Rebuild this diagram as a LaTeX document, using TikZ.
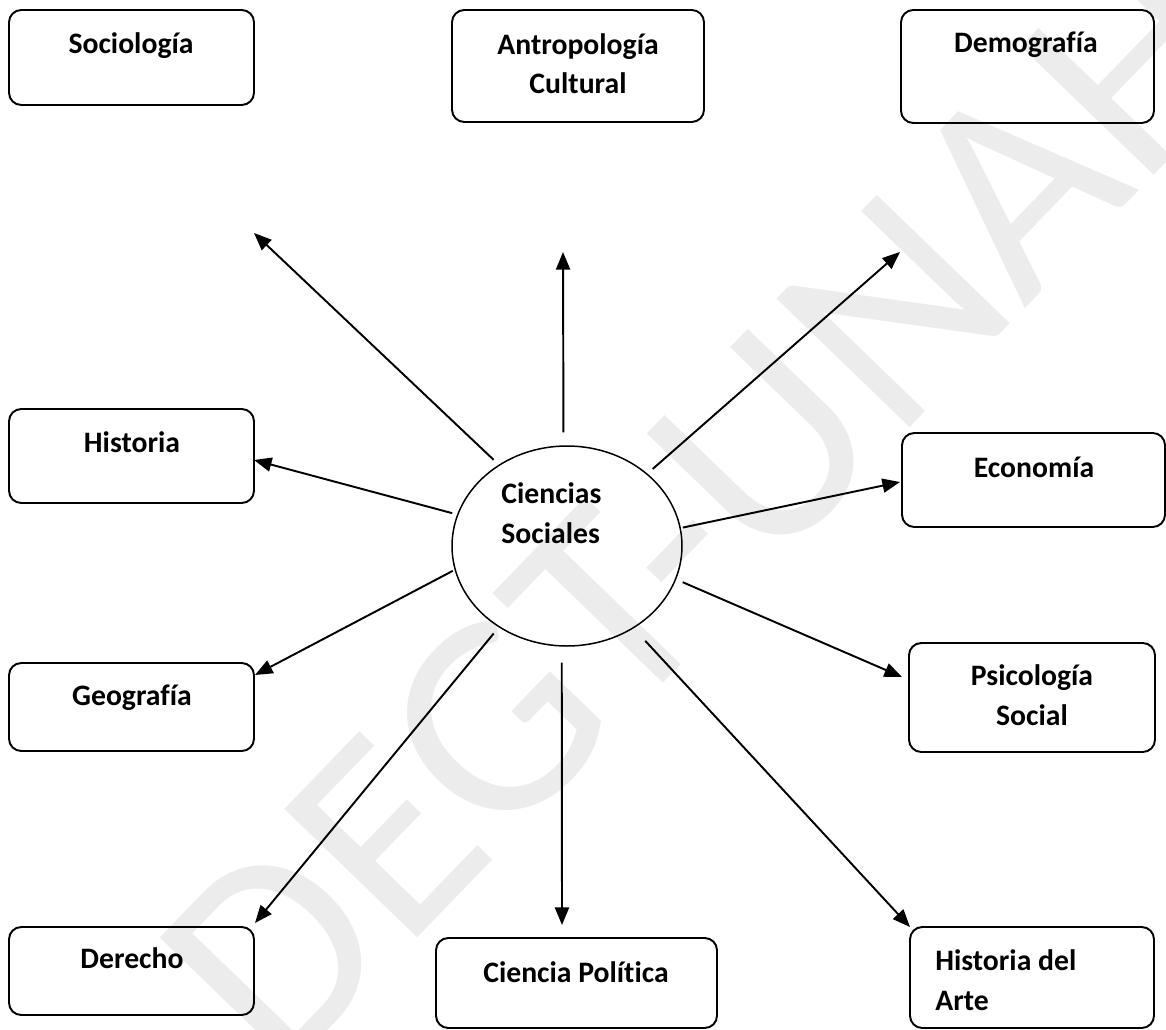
\documentclass[tikz,border=0pt]{standalone}
\usepackage{fontspec}
\setmainfont{Carlito}[Ligatures=NoCommon]
\usetikzlibrary{arrows.meta}
\usetikzlibrary{shapes.geometric}
\newcommand{\px}{0.02cm}
\newcommand{\lblfont}{\fontsize{16.9}{22.7}\selectfont\bfseries}
\newcommand{\wmfont}{\fontsize{164}{164}\selectfont}
\tikzset{
  areabox/.style={draw, rounded corners=7pt, line width=1.1pt, inner sep=0pt},
  arealbl/.style={font=\lblfont, inner sep=0pt, align=center, anchor=base},
  rayarrow/.style={line width=1.1pt, -{Triangle[length=10pt,width=8pt]}},
}

\begin{document}
\begin{tikzpicture}[x=\px, y=-\px]
    \useasboundingbox (0,0) rectangle (1166,1030);
    % watermark
    \node[text=gray!15, font=\wmfont, rotate=46, inner sep=0pt] (wmark) at (706,506) {DEGT-UNAH};
    % centre
    \node[draw, ellipse, line width=0.85pt, minimum width=230*\px, minimum height=200*\px, inner sep=0pt] (cs) at (567,546) {};
    \node[arealbl, align=left, anchor=base west] (cslbl) at (501,543) {Ciencias\\Sociales};
    % top row
    \node[areabox, minimum width=245*\px, minimum height=95*\px] (soc) at (131.5,57.5) {};
    \node[arealbl] (soclbl) at (131,54) {Sociología};
    \node[areabox, minimum width=252*\px, minimum height=112*\px] (antro) at (578,66) {};
    \node[arealbl] (antrolbl) at (578,94) {Antropología\\Cultural};
    \node[areabox, minimum width=253*\px, minimum height=113*\px] (demo) at (1027.5,66.5) {};
    \node[arealbl] (demolbl) at (1026,53) {Demografía};
    % left column
    \node[areabox, minimum width=245*\px, minimum height=94*\px] (hist) at (131.5,456) {};
    \node[arealbl] (histlbl) at (132,452) {Historia};
    \node[areabox, minimum width=245*\px, minimum height=88*\px] (geo) at (131.5,707) {};
    \node[arealbl] (geolbl) at (132,705) {Geografía};
    \node[areabox, minimum width=245*\px, minimum height=88*\px] (der) at (131.5,971) {};
    \node[arealbl] (derlbl) at (132,968) {Derecho};
    % right column
    \node[areabox, minimum width=263*\px, minimum height=94*\px] (econ) at (1033.5,480) {};
    \node[arealbl] (econlbl) at (1034,477) {Economía};
    \node[areabox, minimum width=246*\px, minimum height=109*\px] (psico) at (1032,697.5) {};
    \node[arealbl] (psicolbl) at (1032,725) {Psicología\\Social};
    \node[areabox, minimum width=244*\px, minimum height=101*\px] (arte) at (1032,977.5) {};
    \node[arealbl, align=left, anchor=base west] (artelbl) at (935,1010) {Historia del\\Arte};
    % bottom middle
    \node[areabox, minimum width=281*\px, minimum height=90*\px] (cpol) at (576.5,983) {};
    \node[arealbl] (cpollbl) at (576,982) {Ciencia Política};
    % arrow tips
    \coordinate (soctip) at (254,233);
    \coordinate (antrotip) at (563,252);
    \coordinate (demotip) at (900,252);
    \coordinate (histtip) at (254,460);
    \coordinate (econtip) at (900,482);
    \coordinate (psicotip) at (902,677);
    \coordinate (geotip) at (255,675);
    \coordinate (dertip) at (255,923);
    \coordinate (cpoltip) at (562,925);
    \coordinate (artetip) at (910,927);
    % rays
    \draw[rayarrow, shorten <=7*\px] (cs.130) -- (soctip);
    \draw[rayarrow, shorten <=13*\px] (cs.92.5) -- (antrotip);
    \draw[rayarrow, shorten <=7*\px] (cs.42) -- (demotip);
    \draw[rayarrow, shorten <=5*\px] (cs.164) -- (histtip);
    \draw[rayarrow, shorten <=2*\px] (cs.9.4) -- (econtip);
    \draw[rayarrow, shorten <=7*\px] (cs.-17) -- (psicotip);
    \draw[rayarrow, shorten <=2*\px] (cs.192) -- (geotip);
    \draw[rayarrow, shorten <=8*\px] (cs.230) -- (dertip);
    \draw[rayarrow, shorten <=16*\px] (cs.267.5) -- (cpoltip);
    \draw[rayarrow, shorten <=17*\px] (cs.-51.3) -- (artetip);
\end{tikzpicture}
\end{document}
